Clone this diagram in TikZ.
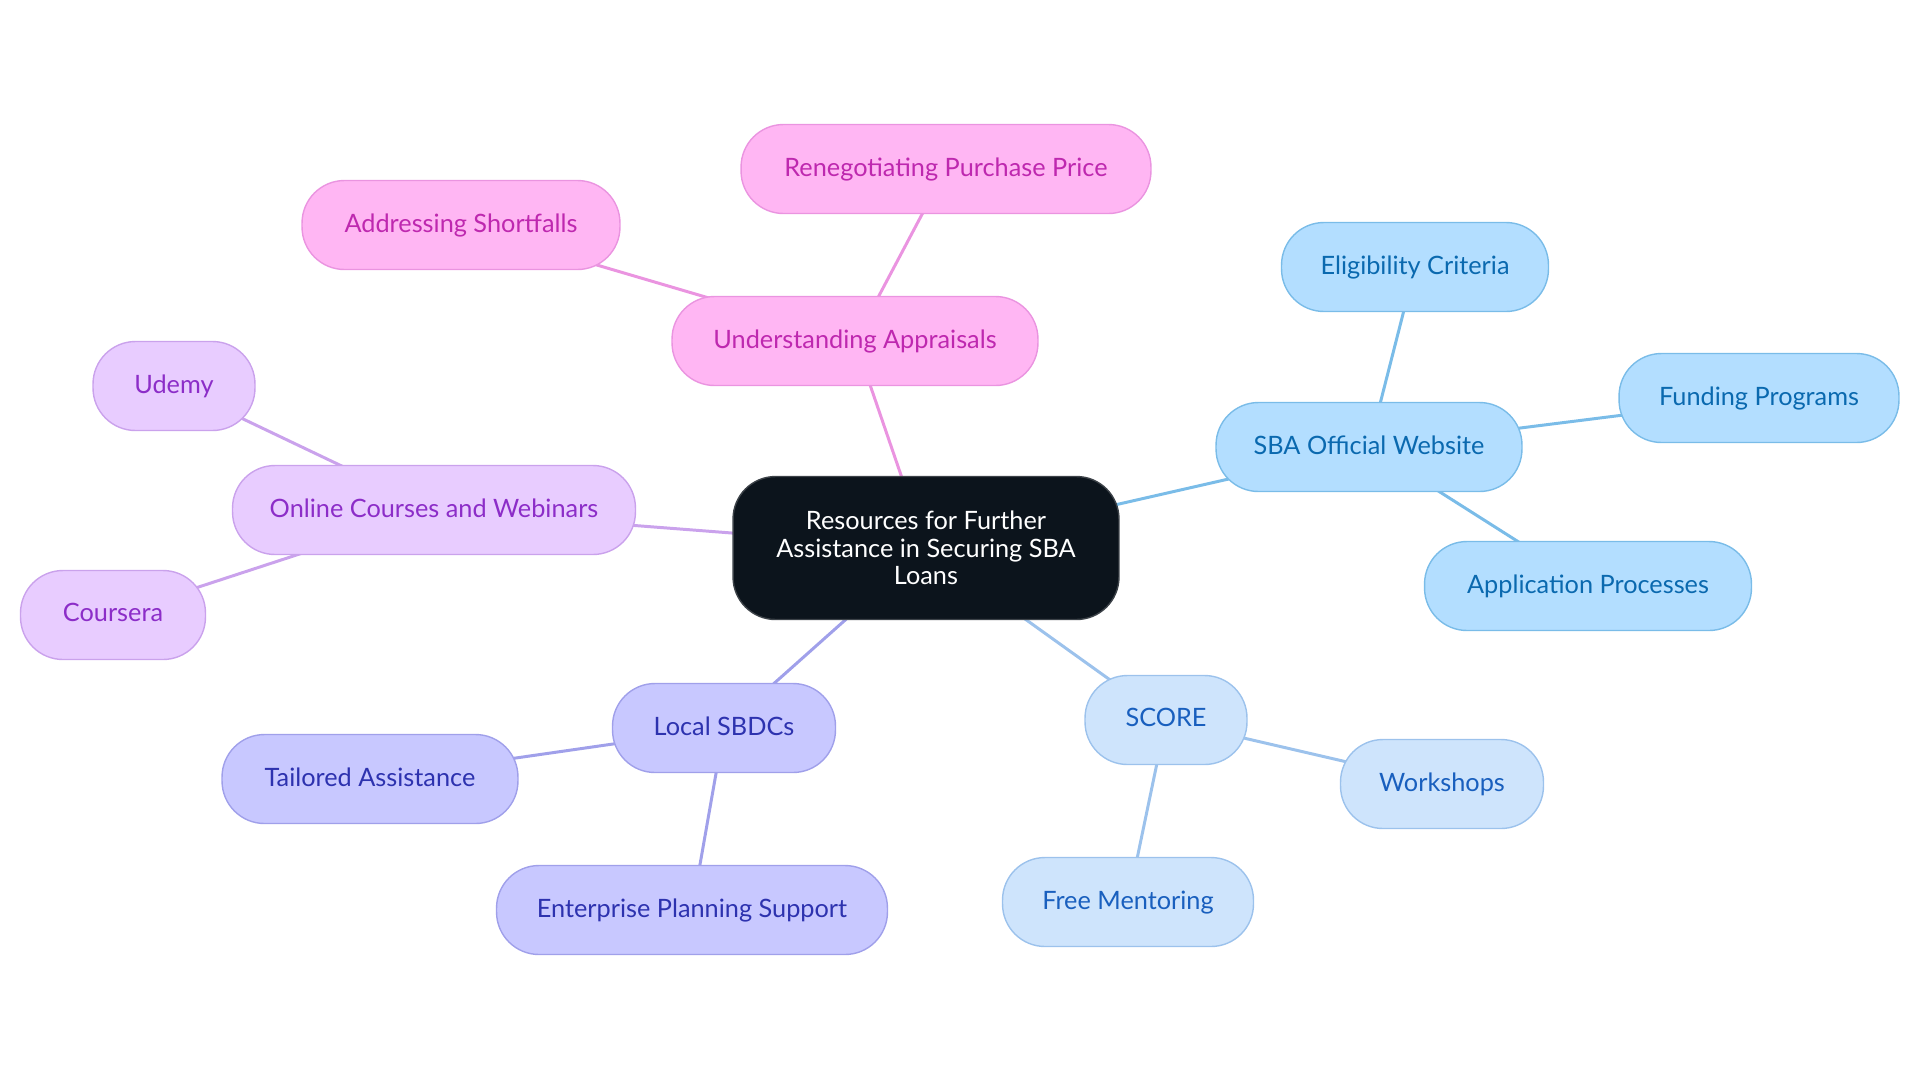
\documentclass[tikz,border=0pt]{standalone}
\usepackage{fontspec}
\setmainfont{Lato}
\usetikzlibrary{positioning}
\usetikzlibrary{backgrounds}
\definecolor{mdark}{RGB}{12,20,28}
\definecolor{mdarkline}{RGB}{60,66,72}
\definecolor{mpinkfill}{RGB}{255,182,243}
\definecolor{mpinkline}{RGB}{234,148,224}
\definecolor{mpinktext}{RGB}{190,40,175}
\definecolor{mbluefill}{RGB}{179,222,255}
\definecolor{mblueline}{RGB}{122,188,232}
\definecolor{mbluetext}{RGB}{10,105,175}
\definecolor{mskyfill}{RGB}{206,228,252}
\definecolor{mskyline}{RGB}{156,194,236}
\definecolor{mskytext}{RGB}{25,95,190}
\definecolor{mindigofill}{RGB}{200,200,255}
\definecolor{mindigoline}{RGB}{160,160,234}
\definecolor{mindigotext}{RGB}{45,50,175}
\definecolor{mpurplefill}{RGB}{232,204,255}
\definecolor{mpurpleline}{RGB}{202,162,236}
\definecolor{mpurpletext}{RGB}{140,45,200}
\tikzset{topic/.style = {draw, line width=0.8pt, rounded corners=0.85cm,
                         minimum height=1.78cm, align=center, text depth=0.5ex,
                         font=\fontsize{14.4}{15.6}\selectfont},
         pinktopic/.style = {topic, fill=mpinkfill, draw=mpinkline, text=mpinktext},
         bluetopic/.style = {topic, fill=mbluefill, draw=mblueline, text=mbluetext},
         skytopic/.style = {topic, fill=mskyfill, draw=mskyline, text=mskytext},
         indigotopic/.style = {topic, fill=mindigofill, draw=mindigoline, text=mindigotext},
         purpletopic/.style = {topic, fill=mpurplefill, draw=mpurpleline, text=mpurpletext},
         link/.style = {line width=1.7pt}}

\begin{document}
\begin{tikzpicture}[x=0.02cm, y=-0.02cm]
    \useasboundingbox (0, 0) rectangle (1920, 1083);

    \node [topic, fill=mdark, draw=mdarkline, text=white, minimum width=7.72cm,
           minimum height=2.86cm, text depth=0pt] (root) at (926, 548)
          {Resources for Further\\Assistance in Securing SBA\\Loans};

    \node [pinktopic, minimum width=7.32cm] (appraisals) at (855, 341) {Understanding Appraisals};
    \node [pinktopic, minimum width=8.2cm] (price) at (946, 169) {Renegotiating Purchase Price};
    \node [pinktopic, minimum width=6.36cm] (shortfalls) at (461, 225) {Addressing Shortfalls};

    \node [bluetopic, minimum width=6.12cm] (website) at (1369, 447) {SBA Official Website};
    \node [bluetopic, minimum width=5.34cm] (criteria) at (1415, 267) {Eligibility Criteria};
    \node [bluetopic, minimum width=5.6cm] (funding) at (1759, 398) {Funding Programs};
    \node [bluetopic, minimum width=6.54cm] (processes) at (1588, 586) {Application Processes};

    \node [skytopic, minimum width=3.24cm] (score) at (1166, 720) {SCORE};
    \node [skytopic, minimum width=4.06cm] (workshops) at (1442, 784) {Workshops};
    \node [skytopic, minimum width=5.02cm] (mentoring) at (1128, 902) {Free Mentoring};

    \node [indigotopic, minimum width=4.46cm] (sbdcs) at (724, 728) {Local SBDCs};
    \node [indigotopic, minimum width=5.92cm] (tailored) at (370, 779) {Tailored Assistance};
    \node [indigotopic, minimum width=7.82cm] (planning) at (692, 910) {Enterprise Planning Support};

    \node [purpletopic, minimum width=8.06cm] (courses) at (434, 510) {Online Courses and Webinars};
    \node [purpletopic, minimum width=3.24cm] (udemy) at (174, 386) {Udemy};
    \node [purpletopic, minimum width=3.7cm] (coursera) at (113, 615) {Coursera};

    \begin{scope}[on background layer]
      \draw [link, mpinkline] (root.center) -- (appraisals.center);
      \draw [link, mpinkline] (appraisals.center) -- (price.center);
      \draw [link, mpinkline] (appraisals.center) -- (shortfalls.center);
      \draw [link, mblueline] (root.center) -- (website.center);
      \draw [link, mblueline] (website.center) -- (criteria.center);
      \draw [link, mblueline] (website.center) -- (funding.center);
      \draw [link, mblueline] (website.center) -- (processes.center);
      \draw [link, mskyline] (root.center) -- (score.center);
      \draw [link, mskyline] (score.center) -- (workshops.center);
      \draw [link, mskyline] (score.center) -- (mentoring.center);
      \draw [link, mindigoline] (root.center) -- (sbdcs.center);
      \draw [link, mindigoline] (sbdcs.center) -- (tailored.center);
      \draw [link, mindigoline] (sbdcs.center) -- (planning.center);
      \draw [link, mpurpleline] (root.center) -- (courses.center);
      \draw [link, mpurpleline] (courses.center) -- (udemy.center);
      \draw [link, mpurpleline] (courses.center) -- (coursera.center);
    \end{scope}
  \end{tikzpicture}
\end{document}
